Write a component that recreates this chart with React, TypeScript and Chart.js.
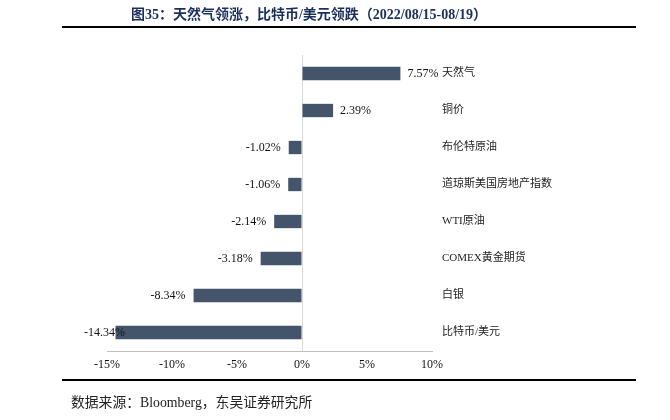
import React, { useEffect, useRef } from "react";
import { Chart, registerables } from "chart.js";

Chart.register(...registerables);

const categories = ["天然气", "铜价", "布伦特原油", "道琼斯美国房地产指数", "WTI原油", "COMEX黄金期货", "白银", "比特币/美元"];
const changes = [7.57, 2.39, -1.02, -1.06, -2.14, -3.18, -8.34, -14.34];
const xTicks = [-15, -10, -5, 0, 5, 10];
const titleText = "图35：天然气领涨，比特币/美元领跌（2022/08/15-08/19）";
const sourceText = "数据来源：Bloomberg，东吴证券研究所";

const SERIF = '"Liberation Serif", "Times New Roman", "Noto Sans CJK SC", serif';

const decorPlugin = {
  id: "decor",
  afterDraw(chart: any) {
    const ctx = chart.ctx;
    const area = chart.chartArea;
    const xs = chart.scales.x;
    const ys = chart.scales.y;
    ctx.save();
    // title
    ctx.fillStyle = "#1b2f5c";
    ctx.font = 'bold 14px "Liberation Serif", "Noto Sans CJK SC", serif';
    ctx.textAlign = "center";
    ctx.textBaseline = "middle";
    ctx.fillText(titleText, 309, 15);
    // lines
    ctx.strokeStyle = "#000";
    ctx.lineWidth = 2;
    ctx.beginPath();
    ctx.moveTo(62, 27);
    ctx.lineTo(636, 27);
    ctx.moveTo(62, 380);
    ctx.lineTo(636, 380);
    ctx.stroke();
    // source
    ctx.fillStyle = "#222";
    ctx.font = '13.8px "Liberation Serif", "Noto Sans CJK SC", serif';
    ctx.textAlign = "left";
    ctx.fillText(sourceText, 71, 403);
    // category labels and values
    const meta = chart.getDatasetMeta(0);
    ctx.font = '11px "Liberation Serif", "Noto Sans CJK SC", serif';
    categories.forEach((c, i) => {
      const y = ys.getPixelForValue(i);
      ctx.fillStyle = "#222";
      ctx.textAlign = "left";
      ctx.fillText(c, area.right + 10, y);
    });
    ctx.font = '12px "Liberation Serif", serif';
    changes.forEach((v, i) => {
      const bar = meta.data[i];
      const y = bar.y;
      const end = xs.getPixelForValue(v);
      const label = v.toFixed(2) + "%";
      ctx.fillStyle = "#111";
      if (v >= 0) {
        ctx.textAlign = "left";
        ctx.fillText(label, end + 7, y);
      } else {
        const w = ctx.measureText(label).width;
        let x = end - 8;
        if (x - w < 84) x = 84 + w;
        ctx.textAlign = "right";
        ctx.fillText(label, x, y);
      }
    });
    ctx.restore();
  },
};

export default function App() {
  const ref = useRef<HTMLCanvasElement>(null);
  useEffect(() => {
    if (!ref.current) return;
    const chart = new Chart(ref.current, {
      type: "bar",
      data: {
        labels: categories,
        datasets: [
          {
            data: changes,
            backgroundColor: "#44546a",
            categoryPercentage: 1,
            barPercentage: 0.36,
          },
        ],
      },
      options: {
        indexAxis: "y",
        animation: false,
        responsive: false,
        devicePixelRatio: 1,
        layout: { padding: { left: 107, right: 238, top: 55, bottom: 0 } },
        plugins: { legend: { display: false }, tooltip: { enabled: false }, title: { display: false } },
        scales: {
          x: {
            min: -15,
            max: 10,
            afterBuildTicks: (s: any) => {
              s.ticks = xTicks.map((v) => ({ value: v }));
            },
            afterFit: (s: any) => {
              s.height = 69;
            },
            ticks: {
              callback: (v: any) => v + "%",
              font: { family: SERIF, size: 12 },
              color: "#111",
              padding: 7,
              maxRotation: 0,
            },
            grid: {
              drawTicks: false,
              color: (c: any) => (c.tick && c.tick.value === 0 ? "#d9d9d9" : "rgba(0,0,0,0)"),
              lineWidth: 1,
            },
            border: { display: true, color: "#bfbfbf", width: 1 },
          },
          y: {
            display: false,
            offset: true,
            grid: { display: false },
          },
        },
      },
      plugins: [decorPlugin],
    });
    return () => chart.destroy();
  }, []);
  return (
    <div style={{ position: "fixed", left: 0, top: 0, width: 670, height: 420, background: "#fff" }}>
      <canvas ref={ref} width={670} height={420} style={{ display: "block" }} />
    </div>
  );
}
